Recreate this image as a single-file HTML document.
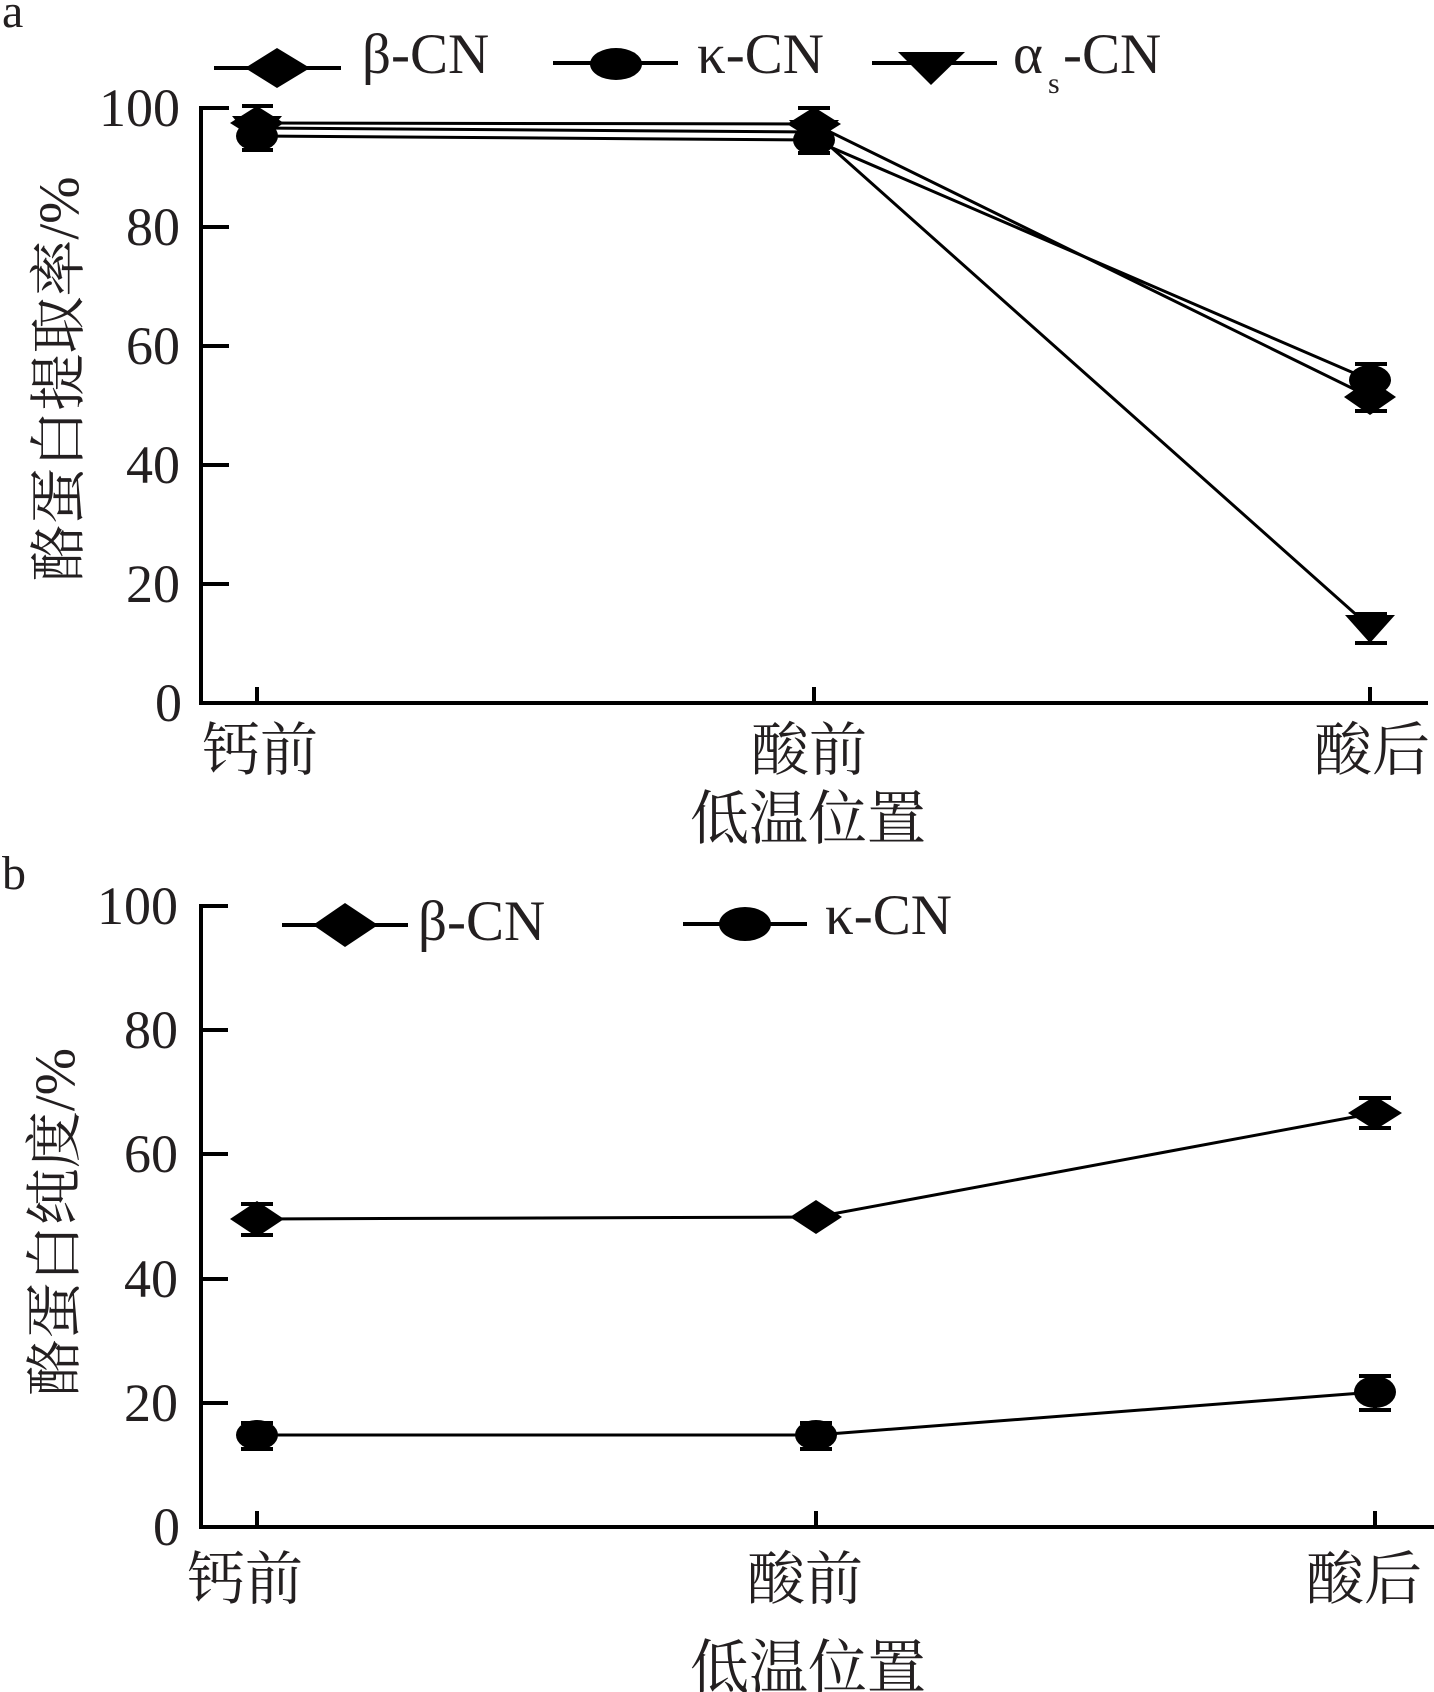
<!DOCTYPE html>
<html>
<head>
<meta charset="utf-8">
<style>
  html, body { margin:0; padding:0; background:#fff; }
  svg { display:block; }
  .num { font-family: "Liberation Serif", serif; font-size:54px; fill:#231f20; }
  .leg { font-family: "Liberation Serif", "DejaVu Serif", serif; font-size:57px; fill:#231f20; }
  .cjk { font-family: "Liberation Serif", "Noto Serif CJK SC", "Noto Sans CJK SC", serif; fill:#231f20; }
  .lbl { font-family: "Liberation Serif", serif; font-size:48px; fill:#231f20; }
</style>
</head>
<body>
<svg width="1434" height="1692" viewBox="0 0 1434 1692" xmlns="http://www.w3.org/2000/svg">
  <rect width="1434" height="1692" fill="#fff"/>

  <!-- ================= PANEL A ================= -->
  <text class="lbl" x="2" y="27">a</text>

  <!-- legend a -->
  <line x1="214" y1="68" x2="341" y2="68" stroke="#000" stroke-width="4"/>
  <polygon points="245,68 277,48 310,68 277,88" fill="#000"/>
  <text class="leg" x="362" y="73">β-CN</text>

  <line x1="553" y1="63" x2="678" y2="63" stroke="#000" stroke-width="4"/>
  <ellipse cx="616" cy="64" rx="26" ry="16" fill="#000"/>
  <text class="leg" x="697" y="73">κ-CN</text>

  <line x1="872" y1="63" x2="997" y2="63" stroke="#000" stroke-width="4"/>
  <polygon points="898,52 965,52 931,85" fill="#000"/>
  <text class="leg" x="1013" y="73">α</text>
  <text class="leg" x="1048" y="93" style="font-size:30px">s</text>
  <text class="leg" x="1063" y="73">-CN</text>

  <!-- axes a -->
  <line x1="201" y1="106" x2="201" y2="705" stroke="#000" stroke-width="4"/>
  <line x1="199" y1="703" x2="1428" y2="703" stroke="#000" stroke-width="4"/>
  <g stroke="#000" stroke-width="4">
    <line x1="201" y1="108" x2="229" y2="108"/>
    <line x1="201" y1="227" x2="229" y2="227"/>
    <line x1="201" y1="346" x2="229" y2="346"/>
    <line x1="201" y1="465" x2="229" y2="465"/>
    <line x1="201" y1="584" x2="229" y2="584"/>
    <line x1="201" y1="703" x2="229" y2="703"/>
    <line x1="257" y1="687" x2="257" y2="703"/>
    <line x1="814" y1="687" x2="814" y2="703"/>
    <line x1="1370" y1="687" x2="1370" y2="703"/>
  </g>
  <g class="num" text-anchor="end">
    <text x="180" y="126">100</text>
    <text x="180" y="245">80</text>
    <text x="180" y="364">60</text>
    <text x="180" y="483">40</text>
    <text x="180" y="602">20</text>
    <text x="182" y="721">0</text>
  </g>
  <g class="cjk" style="font-size:58px" text-anchor="middle">
    <text x="260" y="770">钙前</text>
    <text x="809" y="770">酸前</text>
    <text x="1372" y="770">酸后</text>
    <text x="808" y="839" style="font-size:59px">低温位置</text>
  </g>
  <text class="cjk" style="font-size:57px" text-anchor="middle" transform="translate(78,379) rotate(-90)">酪蛋白提取率/%</text>

  <!-- series a -->
  <g stroke="#000" stroke-width="3" fill="none">
    <polyline points="257,123 814,124 1370,397"/>
    <polyline points="257,136 814,140 1370,380"/>
    <polyline points="257,128 814,132 1370,627"/>
  </g>
  <!-- error bars a -->
  <g stroke="#000" stroke-width="4">
    <line x1="257" y1="105" x2="257" y2="152"/>
    <line x1="242" y1="106" x2="273" y2="106"/>
    <line x1="242" y1="150" x2="273" y2="150"/>
    <line x1="814" y1="106" x2="814" y2="155"/>
    <line x1="798" y1="108" x2="830" y2="108"/>
    <line x1="798" y1="153" x2="830" y2="153"/>
    <line x1="1370" y1="362" x2="1370" y2="413"/>
    <line x1="1355" y1="364" x2="1387" y2="364"/>
    <line x1="1355" y1="411" x2="1387" y2="411"/>
    <line x1="1370" y1="612" x2="1370" y2="645"/>
    <line x1="1355" y1="614" x2="1387" y2="614"/>
    <line x1="1355" y1="643" x2="1387" y2="643"/>
  </g>
  <!-- markers a -->
  <g fill="#000">
    <polygon points="232,116 282,116 257,146"/>
    <polygon points="230,123 257,106 284,123 257,140"/>
    <ellipse cx="257" cy="136" rx="21" ry="15"/>

    <polygon points="789,120 839,120 814,150"/>
    <polygon points="787,124 814,107 841,124 814,141"/>
    <ellipse cx="814" cy="140" rx="21" ry="15"/>

    <polygon points="1344,397 1370,379 1396,397 1370,415"/>
    <ellipse cx="1370" cy="380" rx="21" ry="15"/>

    <polygon points="1345,615 1395,615 1370,643"/>
  </g>

  <!-- ================= PANEL B ================= -->
  <text class="lbl" x="2" y="889">b</text>

  <!-- legend b -->
  <line x1="282" y1="925" x2="408" y2="925" stroke="#000" stroke-width="4"/>
  <polygon points="313,925 345,903 378,925 345,947" fill="#000"/>
  <text class="leg" x="418" y="940">β-CN</text>

  <line x1="683" y1="924" x2="807" y2="924" stroke="#000" stroke-width="4"/>
  <ellipse cx="745" cy="924" rx="26" ry="17" fill="#000"/>
  <text class="leg" x="825" y="934">κ-CN</text>

  <!-- axes b -->
  <line x1="201" y1="904" x2="201" y2="1529" stroke="#000" stroke-width="4"/>
  <line x1="199" y1="1527" x2="1434" y2="1527" stroke="#000" stroke-width="4"/>
  <g stroke="#000" stroke-width="4">
    <line x1="201" y1="906" x2="228" y2="906"/>
    <line x1="201" y1="1030" x2="228" y2="1030"/>
    <line x1="201" y1="1154" x2="228" y2="1154"/>
    <line x1="201" y1="1279" x2="228" y2="1279"/>
    <line x1="201" y1="1403" x2="228" y2="1403"/>
    <line x1="201" y1="1527" x2="228" y2="1527"/>
    <line x1="257" y1="1511" x2="257" y2="1527"/>
    <line x1="816" y1="1511" x2="816" y2="1527"/>
    <line x1="1375" y1="1511" x2="1375" y2="1527"/>
  </g>
  <g class="num" text-anchor="end">
    <text x="178" y="924">100</text>
    <text x="178" y="1048">80</text>
    <text x="178" y="1172">60</text>
    <text x="178" y="1297">40</text>
    <text x="178" y="1421">20</text>
    <text x="180" y="1545">0</text>
  </g>
  <g class="cjk" style="font-size:58px" text-anchor="middle">
    <text x="245" y="1599">钙前</text>
    <text x="805" y="1599">酸前</text>
    <text x="1364" y="1599">酸后</text>
    <text x="808" y="1688" style="font-size:59px">低温位置</text>
  </g>
  <text class="cjk" style="font-size:57px" text-anchor="middle" transform="translate(74,1222) rotate(-90)">酪蛋白纯度/%</text>

  <!-- series b -->
  <g stroke="#000" stroke-width="3" fill="none">
    <polyline points="257,1219 816,1217 1375,1113"/>
    <polyline points="257,1435 816,1435 1375,1392"/>
  </g>
  <g stroke="#000" stroke-width="4">
    <line x1="257" y1="1202" x2="257" y2="1237"/>
    <line x1="241" y1="1204" x2="273" y2="1204"/>
    <line x1="241" y1="1235" x2="273" y2="1235"/>
    <line x1="257" y1="1421" x2="257" y2="1451"/>
    <line x1="241" y1="1423" x2="273" y2="1423"/>
    <line x1="241" y1="1449" x2="273" y2="1449"/>
    <line x1="816" y1="1421" x2="816" y2="1451"/>
    <line x1="800" y1="1423" x2="832" y2="1423"/>
    <line x1="800" y1="1449" x2="832" y2="1449"/>
    <line x1="1375" y1="1096" x2="1375" y2="1130"/>
    <line x1="1359" y1="1098" x2="1391" y2="1098"/>
    <line x1="1359" y1="1128" x2="1391" y2="1128"/>
    <line x1="1375" y1="1374" x2="1375" y2="1412"/>
    <line x1="1359" y1="1376" x2="1391" y2="1376"/>
    <line x1="1359" y1="1410" x2="1391" y2="1410"/>
  </g>
  <g fill="#000">
    <polygon points="230,1219 257,1201 284,1219 257,1237"/>
    <polygon points="790,1217 816,1200 842,1217 816,1234"/>
    <polygon points="1348,1113 1375,1096 1402,1113 1375,1130"/>
    <ellipse cx="257" cy="1435" rx="21" ry="15"/>
    <ellipse cx="816" cy="1435" rx="21" ry="15"/>
    <ellipse cx="1375" cy="1392" rx="21" ry="16"/>
  </g>
</svg>
</body>
</html>
